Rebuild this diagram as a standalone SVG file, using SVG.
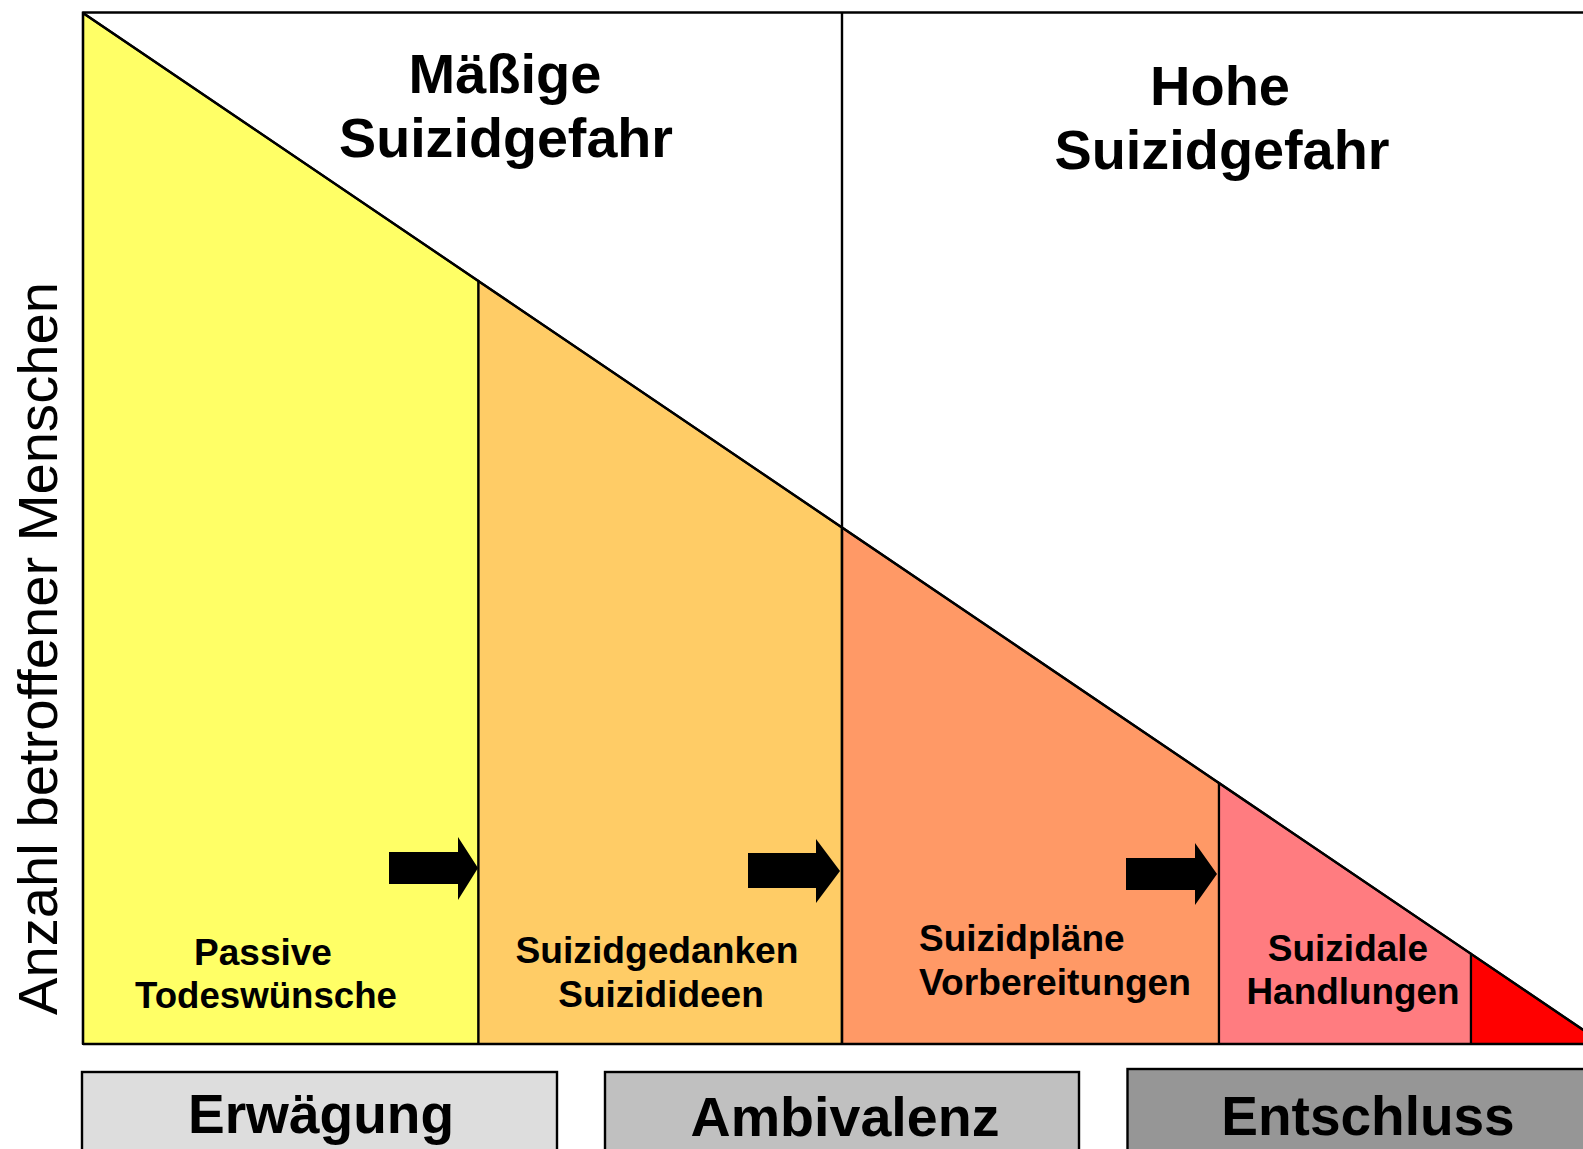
<svg xmlns="http://www.w3.org/2000/svg" width="1583" height="1149" viewBox="0 0 1583 1149">
<style>
.seg{stroke:#000;stroke-width:2.2;stroke-linejoin:miter}
.ln{stroke:#000;stroke-width:2.4;fill:none}
.box{stroke:#000;stroke-width:2.4}
.t{font-family:"Liberation Sans",Arial,sans-serif;font-weight:bold;fill:#000}
.lbl{font-size:37px;text-anchor:middle}
.big{font-size:56px;text-anchor:middle}
.phase{font-size:55px;text-anchor:middle}
.arr{fill:#000;stroke:none}
</style>
<rect width="1583" height="1149" fill="#fff"/>
<g id="segments">
<g id="seg-passive">
<polygon class="seg" fill="#FFFF66" points="83,13 478.5,281.1 478.5,1044 83,1044"/>
<text class="t lbl" x="263" y="965">Passive</text>
<text class="t lbl" x="266" y="1008" textLength="262" lengthAdjust="spacingAndGlyphs">Todeswünsche</text>
</g>
<g id="seg-gedanken">
<polygon class="seg" fill="#FFCC66" points="478.5,281.1 842,527.5 842,1044 478.5,1044"/>
<text class="t lbl" x="657" y="963" textLength="283" lengthAdjust="spacingAndGlyphs">Suizidgedanken</text>
<text class="t lbl" x="661" y="1007">Suizidideen</text>
</g>
<g id="seg-plaene">
<polygon class="seg" fill="#FF9966" points="842,527.5 1219,783 1219,1044 842,1044"/>
<text class="t" font-size="37" x="919" y="951">Suizidpläne</text>
<text class="t" font-size="37" x="919" y="995" textLength="272" lengthAdjust="spacingAndGlyphs">Vorbereitungen</text>
</g>
<g id="seg-handlungen">
<polygon class="seg" fill="#FF7C80" points="1219,783 1471,953.8 1471,1044 1219,1044"/>
<text class="t lbl" x="1348" y="961">Suizidale</text>
<text class="t lbl" x="1353" y="1004" textLength="213" lengthAdjust="spacingAndGlyphs">Handlungen</text>
</g>
<g id="seg-suizid">
<polygon class="seg" fill="#FF0000" points="1471,953.8 1604,1044 1471,1044"/>
</g>
</g>
<g id="frame">
<line class="ln" x1="83" y1="12.5" x2="1583" y2="12.5" stroke-width="2.8"/>
<line class="ln" x1="83" y1="12" x2="83" y2="1044"/>
<line class="ln" x1="842" y1="12" x2="842" y2="1044"/>
<line class="ln" x1="83" y1="1044" x2="1583" y2="1044"/>
<line class="ln" x1="83" y1="13" x2="1604" y2="1044"/>
</g>
<g id="title-maessig">
<text class="t big" x="505" y="93">Mäßige</text>
<text class="t big" x="506" y="157" textLength="334" lengthAdjust="spacingAndGlyphs">Suizidgefahr</text>
</g>
<g id="title-hoch">
<text class="t big" x="1220" y="105">Hohe</text>
<text class="t big" x="1222" y="169" textLength="335" lengthAdjust="spacingAndGlyphs">Suizidgefahr</text>
</g>
<g id="axis-label">
<text font-family="'Liberation Sans',Arial,sans-serif" font-size="56" text-anchor="middle" transform="translate(57,648.5) rotate(-90)" textLength="733" lengthAdjust="spacingAndGlyphs">Anzahl betroffener Menschen</text>
</g>
<g id="connectors">
<polygon class="arr" points="389,852 458,852 458,837 478,868 458,900 458,884 389,884"/>
<polygon class="arr" points="748,853 816,853 816,839 840,871 816,903 816,888 748,888"/>
<polygon class="arr" points="1126,858 1195,858 1195,843 1217,874 1195,905 1195,890 1126,890"/>
</g>
<g id="phase-erwaegung">
<rect class="box" fill="#DDDDDD" x="82" y="1072" width="475" height="100"/>
<text class="t phase" x="321" y="1133" textLength="266" lengthAdjust="spacingAndGlyphs">Erwägung</text>
</g>
<g id="phase-ambivalenz">
<rect class="box" fill="#C0C0C0" x="605" y="1072" width="474" height="100"/>
<text class="t phase" x="845" y="1136" textLength="309" lengthAdjust="spacingAndGlyphs">Ambivalenz</text>
</g>
<g id="phase-entschluss">
<rect class="box" fill="#969696" x="1127.5" y="1069" width="480" height="100"/>
<text class="t phase" x="1368" y="1135">Entschluss</text>
</g>
</svg>
